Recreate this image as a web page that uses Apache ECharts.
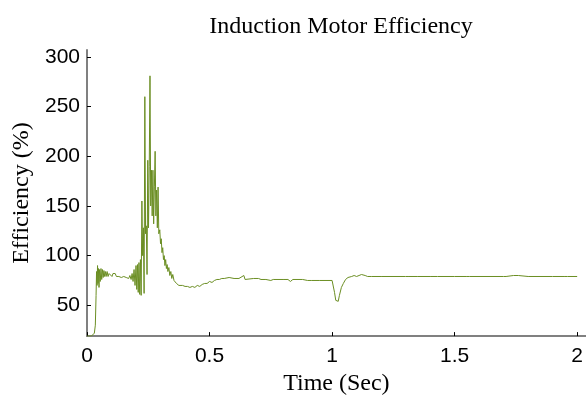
<!DOCTYPE html>
<html>
<head>
<meta charset="utf-8">
<title>Induction Motor Efficiency</title>
<script src="https://cdn.jsdelivr.net/npm/echarts@6/dist/echarts.min.js"></script>
<style>
  html, body { margin: 0; padding: 0; background: #fff; }
  #main { width: 586px; height: 401px; }
</style>
</head>
<body>
<div id="main"></div>
<script>
// time (s) and efficiency (%)
const timeSec = [
  0.000, 0.018, 0.022, 0.030, 0.034, 0.037, 0.039, 0.041, 0.043, 0.045,
  0.047, 0.049, 0.051, 0.054, 0.057, 0.060, 0.063, 0.066, 0.069, 0.072,
  0.075, 0.078, 0.082, 0.086, 0.090, 0.094, 0.098, 0.102, 0.106, 0.110,
  0.115, 0.120, 0.125, 0.130, 0.135, 0.140, 0.145, 0.150, 0.155, 0.160,
  0.165, 0.170, 0.175, 0.180, 0.184, 0.188, 0.192, 0.196, 0.200, 0.203,
  0.206, 0.209, 0.212, 0.215, 0.218, 0.221, 0.224, 0.227, 0.230, 0.233,
  0.236, 0.239, 0.242, 0.245, 0.248, 0.251, 0.254, 0.257, 0.260, 0.263,
  0.266, 0.269, 0.272, 0.275, 0.278, 0.281, 0.284, 0.287, 0.290, 0.293,
  0.297, 0.300, 0.303, 0.306, 0.309, 0.312, 0.315, 0.318, 0.321, 0.324,
  0.327, 0.330, 0.334, 0.338, 0.342, 0.346, 0.350, 0.355, 0.360, 0.365,
  0.370, 0.375, 0.380, 0.390, 0.400, 0.410, 0.420, 0.430, 0.440, 0.450,
  0.460, 0.470, 0.480, 0.490, 0.500, 0.510, 0.520, 0.530, 0.540, 0.550,
  0.560, 0.580, 0.600, 0.620, 0.640, 0.645, 0.650, 0.680, 0.700, 0.710,
  0.730, 0.750, 0.752, 0.760, 0.800, 0.820, 0.830, 0.840, 0.880, 0.900,
  0.905, 0.915, 0.950, 1.000, 1.005, 1.010, 1.015, 1.020, 1.025, 1.030,
  1.038, 1.046, 1.055, 1.065, 1.080, 1.090, 1.095, 1.100, 1.110, 1.120,
  1.125, 1.135, 1.145, 1.160, 1.200, 1.300, 1.305, 1.310, 1.350, 1.400,
  1.420, 1.425, 1.430, 1.500, 1.550, 1.555, 1.560, 1.700, 1.705, 1.710,
  1.740, 1.745, 1.760, 1.800, 1.900, 1.950, 1.955, 1.960, 2.000
];
const efficiency = [
  19, 19, 21, 22, 30, 60, 84, 70, 90, 72,
  87, 68, 86, 74, 87, 76, 86, 78, 85, 79,
  84, 79, 84, 79, 82, 80, 83, 79, 82, 80,
  82, 79, 81, 79, 80, 78, 80, 79, 80, 78,
  79, 77, 80, 76, 82, 74, 86, 70, 90, 66,
  91, 63, 93, 61, 96, 60, 155, 100, 128, 62,
  260, 122, 130, 81, 196, 128, 190, 281, 150, 186,
  140, 186, 132, 170, 205, 140, 166, 128, 169, 122,
  126, 112, 117, 103, 108, 96, 100, 90, 96, 87,
  91, 84, 88, 80, 84, 77, 81, 75, 77, 72,
  74, 70, 72, 70, 69, 69, 68, 69, 68, 70,
  69, 71, 72, 72, 74, 73, 75, 76, 76, 77,
  77, 78, 77, 77, 80, 76, 78, 77, 77, 76,
  76, 75, 77, 76, 76, 76, 74, 76, 76, 75,
  73, 75, 75, 75, 73, 63, 55, 53, 54, 60,
  68, 72, 76, 78, 79, 80, 81, 79, 80, 81,
  79, 80, 79, 79, 79, 79, 80, 79, 79, 79,
  79, 80, 79, 79, 79, 78, 79, 79, 78, 79,
  80, 79, 80, 79, 79, 79, 80, 79, 79
];
const xTicks = [0, 0.5, 1, 1.5, 2];
const yTicks = [50, 100, 150, 200, 250, 300];

const points = timeSec.map((t, i) => [t, efficiency[i]]);

const chart = echarts.init(document.getElementById('main'));
const option = {
  animation: false,
  title: {
    text: 'Induction Motor Efficiency',
    left: 336,
    textAlign: 'center',
    top: 10,
    textStyle: {
      fontFamily: 'Liberation Serif',
      fontWeight: 'normal',
      fontSize: 24,
      color: '#000'
    }
  },
  grid: { left: 87, right: 0, top: 50, bottom: 62 },
  xAxis: {
    type: 'value',
    min: 0,
    max: 2.035,
    name: 'Time (Sec)',
    nameLocation: 'middle',
    nameGap: 32,
    nameTextStyle: { fontFamily: 'Liberation Serif', fontSize: 24, color: '#000' },
    splitLine: { show: false },
    axisLine: { lineStyle: { color: '#808080', width: 2 } },
    axisTick: { inside: true, length: 4, customValues: xTicks, lineStyle: { color: '#000' } },
    axisLabel: {
      customValues: xTicks,
      margin: 10,
      fontFamily: 'Liberation Sans',
      fontSize: 21,
      color: '#000'
    }
  },
  yAxis: {
    type: 'value',
    min: 19,
    max: 307,
    name: 'Efficiency (%)',
    nameLocation: 'middle',
    nameRotate: 90,
    nameGap: 52,
    nameTextStyle: { fontFamily: 'Liberation Serif', fontSize: 24, color: '#000' },
    splitLine: { show: false },
    axisLine: { lineStyle: { color: '#808080', width: 2 } },
    axisTick: { inside: true, length: 4, customValues: yTicks, lineStyle: { color: '#000' } },
    axisLabel: {
      customValues: yTicks,
      margin: 7,
      fontFamily: 'Liberation Sans',
      fontSize: 21,
      color: '#000'
    }
  },
  series: [{
    type: 'line',
    data: points,
    showSymbol: false,
    lineStyle: { color: '#6b8e23', width: 1 },
    itemStyle: { color: '#6b8e23' }
  }]
};
chart.setOption(option);
</script>
</body>
</html>
